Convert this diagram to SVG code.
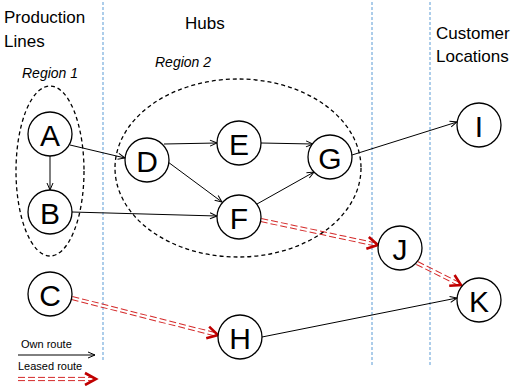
<svg xmlns="http://www.w3.org/2000/svg" width="519" height="386" viewBox="0 0 519 386">
  <style>
    .lbl { font-family: "Liberation Sans", Arial, sans-serif; fill: #000; }
    .head { font-size: 17px; }
    .reg { font-size: 14px; font-style: italic; }
    .leg { font-size: 11px; }
    .node circle { fill: #fff; stroke: #000; stroke-width: 1.3; }
    .node text { font-family: "Liberation Sans", Arial, sans-serif; font-size: 30px; text-anchor: middle; dominant-baseline: central; }
    .sep { stroke: #5b9bd5; stroke-width: 1; stroke-dasharray: 3 2; fill: none; }
    .region { fill: none; stroke: #000; stroke-width: 1.3; stroke-dasharray: 4 3; }
    .own { stroke: #000; stroke-width: 1; fill: none; marker-end: url(#open); }
    .lease line { stroke: #d42a2a; stroke-width: 1; stroke-dasharray: 7 3; }
    .lease polyline { fill: none; stroke: #c00000; stroke-width: 2.6; stroke-linejoin: miter; }
  </style>
  <defs>
    <marker id="open" viewBox="0 0 8 8" refX="7.5" refY="4" markerWidth="8" markerHeight="8" markerUnits="userSpaceOnUse" orient="auto">
      <path d="M0.5,1 L7.5,4 L0.5,7" fill="none" stroke="#000" stroke-width="1"/>
    </marker>
  </defs>

  <rect width="519" height="386" fill="#fff"/>

  <!-- column separators -->
  <g id="separators">
    <line class="sep" x1="103" y1="2" x2="103" y2="362"/>
    <line class="sep" x1="372" y1="2" x2="372" y2="366"/>
    <line class="sep" x1="430" y1="2" x2="430" y2="366"/>
  </g>

  <!-- headings -->
  <g id="headings" class="lbl">
    <text class="head" x="4" y="23">Production</text>
    <text class="head" x="4" y="47">Lines</text>
    <text class="head" x="185" y="29">Hubs</text>
    <text class="head" x="436" y="39">Customer</text>
    <text class="head" x="436" y="62">Locations</text>
    <text class="reg" x="22" y="78">Region 1</text>
    <text class="reg" x="155" y="67">Region 2</text>
  </g>

  <!-- regions -->
  <g id="regions">
    <ellipse class="region" cx="50" cy="171" rx="34" ry="85"/>
    <ellipse class="region" cx="238" cy="168" rx="123" ry="89"/>
  </g>

  <!-- connectors -->
  <g id="connectors">
    <line class="own" x1="50" y1="156" x2="50" y2="190"/>
    <line class="own" x1="70" y1="145" x2="125" y2="158"/>
    <line class="own" x1="72" y1="212" x2="217" y2="216"/>
    <line class="own" x1="164" y1="144" x2="217" y2="143"/>
    <line class="own" x1="168" y1="162" x2="222" y2="202"/>
    <line class="own" x1="261" y1="143" x2="313" y2="144"/>
    <line class="own" x1="257" y1="204" x2="314" y2="172"/>
    <line class="own" x1="352" y1="155" x2="457" y2="122"/>
    <line class="own" x1="262" y1="337" x2="457" y2="298"/>

    <!-- leased routes: double dashed line with a bold chevron -->
    <g class="lease" transform="translate(261 220) rotate(12.06)">
      <line x1="0" y1="-1.6" x2="118" y2="-1.6"/>
      <line x1="0" y1="1.6" x2="118" y2="1.6"/>
      <polyline points="109,-6 119.6,0 109,6"/>
    </g>
    <g class="lease" transform="translate(417 263) rotate(26.57)">
      <line x1="0" y1="-1.6" x2="48" y2="-1.6"/>
      <line x1="0" y1="1.6" x2="48" y2="1.6"/>
      <polyline points="39,-6 49.2,0 39,6"/>
    </g>
    <g class="lease" transform="translate(72 298) rotate(14.22)">
      <line x1="0" y1="-1.6" x2="149" y2="-1.6"/>
      <line x1="0" y1="1.6" x2="149" y2="1.6"/>
      <polyline points="140,-6 150.6,0 140,6"/>
    </g>
  </g>

  <!-- nodes -->
  <g id="A" class="node"><circle cx="50" cy="134" r="22"/><text x="50" y="135">A</text></g>
  <g id="B" class="node"><circle cx="50" cy="212" r="22"/><text x="50" y="213">B</text></g>
  <g id="C" class="node"><circle cx="50" cy="294" r="22"/><text x="50" y="295">C</text></g>
  <g id="D" class="node"><circle cx="147" cy="160" r="22"/><text x="147" y="161">D</text></g>
  <g id="E" class="node"><circle cx="239" cy="143" r="22"/><text x="239" y="144">E</text></g>
  <g id="F" class="node"><circle cx="239" cy="217" r="22"/><text x="239" y="218">F</text></g>
  <g id="G" class="node"><circle cx="330" cy="157" r="22"/><text x="330" y="158">G</text></g>
  <g id="H" class="node"><circle cx="240" cy="337" r="22"/><text x="240" y="338">H</text></g>
  <g id="I" class="node"><circle cx="479" cy="125" r="22"/><text x="479" y="126">I</text></g>
  <g id="J" class="node"><circle cx="400" cy="248" r="22"/><text x="400" y="249">J</text></g>
  <g id="K" class="node"><circle cx="479" cy="300" r="22"/><text x="479" y="301">K</text></g>

  <!-- legend -->
  <g id="legend">
    <text class="lbl leg" x="21" y="348">Own route</text>
    <line class="own" x1="18" y1="355" x2="95" y2="355"/>
    <text class="lbl leg" x="18" y="370">Leased route</text>
    <g class="lease" transform="translate(18 379)">
      <line x1="0" y1="-1.6" x2="76" y2="-1.6"/>
      <line x1="0" y1="1.6" x2="76" y2="1.6"/>
      <polyline points="67,-6 78,0 67,6"/>
    </g>
  </g>
</svg>
